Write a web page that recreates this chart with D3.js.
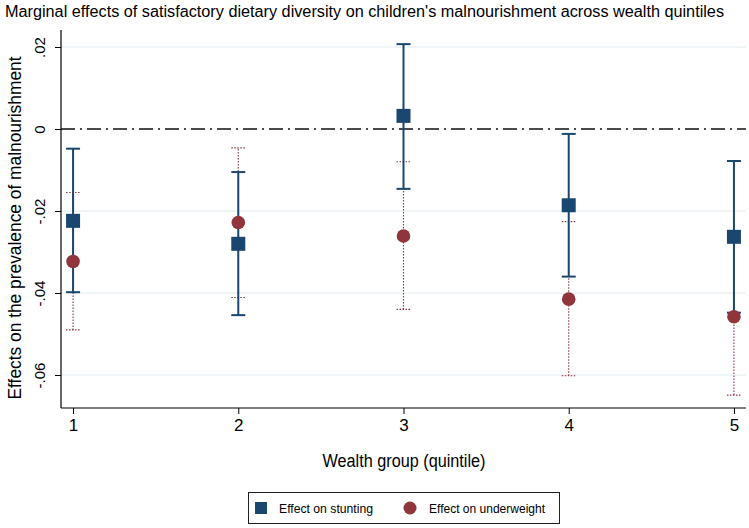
<!DOCTYPE html>
<html><head><meta charset="utf-8">
<script src="https://cdn.jsdelivr.net/npm/d3@7"></script>
<style>body{margin:0;background:#fff;} text{font-family:"Liberation Sans",Arial,sans-serif;fill:#000;}</style>
</head><body>
<svg id="chart" width="749" height="528"></svg>
<script>
const groups = [1, 2, 3, 4, 5];
const stuntEst = [-0.0224, -0.0280, 0.0032, -0.0186, -0.0263];
const stuntLo  = [-0.0398, -0.0454, -0.0146, -0.0360, -0.0448];
const stuntHi  = [-0.0048, -0.0105, 0.0207, -0.0012, -0.0078];
const underEst = [-0.0323, -0.0228, -0.0261, -0.0415, -0.0458];
const underLo  = [-0.0490, -0.0411, -0.0440, -0.0602, -0.0649];
const underHi  = [-0.0155, -0.0046, -0.0080, -0.0226, -0.0267];
const yTicks = [0.02, 0, -0.02, -0.04, -0.06];
const yTickLabels = [".02", "0", "-.02", "-.04", "-.06"];
const titleText = "Marginal effects of satisfactory dietary diversity on children's malnourishment across wealth quintiles";
const xTitle = "Wealth group (quintile)";
const yTitle = "Effects on the prevalence of malnourishment";
const legendLabels = ["Effect on stunting", "Effect on underweight"];

const blue = "#1a476f", red = "#90353b";
const svg = d3.select("#chart");
const L = 61, R = 746, T = 30, B = 408;
const x = d3.scaleLinear().domain([0.927, 5.073]).range([L, R]);
const y = d3.scaleLinear().domain([0, 0.02]).range([129, 47]);
const ff = "Liberation Sans, Arial, sans-serif";

// gridlines
svg.append("g").selectAll("line").data(yTicks.filter(v => v !== 0)).join("line")
  .attr("x1", L).attr("x2", R).attr("y1", d => y(d)).attr("y2", d => y(d))
  .attr("stroke", "#eaf2f3").attr("stroke-width", 1.5);

// zero reference line
svg.append("line").attr("x1", L).attr("x2", R).attr("y1", y(0)).attr("y2", y(0))
  .attr("stroke", "#111").attr("stroke-width", 1.6).attr("stroke-dasharray", "14,5,2,5");

// axes
const yAxis = d3.axisLeft(y).tickValues(yTicks).tickFormat((d, i) => yTickLabels[i]).tickSize(6).tickPadding(5);
const gy = svg.append("g").attr("transform", `translate(${L},0)`).call(yAxis);
gy.select(".domain").attr("d", `M0,${T}V${B}`).attr("stroke", "#000").attr("stroke-width", 1.2);
gy.selectAll(".tick line").attr("stroke", "#000");
gy.selectAll(".tick text").attr("transform", "rotate(-90)").attr("x", 0).attr("y", -16)
  .attr("dy", 0).attr("text-anchor", "middle").style("font-size", "15px").style("font-family", ff);

const xAxis = d3.axisBottom(x).tickValues(groups).tickFormat(d3.format("d")).tickSize(6).tickPadding(5);
const gx = svg.append("g").attr("transform", `translate(0,${B})`).call(xAxis);
gx.select(".domain").attr("d", `M${L},0H${R}`).attr("stroke", "#000").attr("stroke-width", 1.2);
gx.selectAll(".tick line").attr("stroke", "#000");
gx.selectAll(".tick text").style("font-size", "17px").style("font-family", ff);

// CI lines - underweight (dotted)
const cap = 7;
const uw = svg.append("g");
groups.forEach((g, i) => {
  const cx = x(g);
  uw.append("line").attr("x1", cx).attr("x2", cx).attr("y1", y(underLo[i])).attr("y2", y(underHi[i]))
    .attr("stroke", red).attr("stroke-width", 1.1).attr("stroke-dasharray", "1.5,1.5");
  [underLo[i], underHi[i]].forEach(v => uw.append("line").attr("x1", cx - cap).attr("x2", cx + cap)
    .attr("y1", y(v)).attr("y2", y(v)).attr("stroke", red).attr("stroke-width", 1.1).attr("stroke-dasharray", "1.5,1.5"));
});
// CI lines - stunting (solid)
const st = svg.append("g");
groups.forEach((g, i) => {
  const cx = x(g);
  st.append("line").attr("x1", cx).attr("x2", cx).attr("y1", y(stuntLo[i])).attr("y2", y(stuntHi[i]))
    .attr("stroke", blue).attr("stroke-width", 2);
  [stuntLo[i], stuntHi[i]].forEach(v => st.append("line").attr("x1", cx - cap).attr("x2", cx + cap)
    .attr("y1", y(v)).attr("y2", y(v)).attr("stroke", blue).attr("stroke-width", 2));
});
// markers
const sq = 14;
svg.append("g").selectAll("rect").data(groups).join("rect")
  .attr("x", (d) => x(d) - sq / 2).attr("y", (d, i) => y(stuntEst[i]) - sq / 2)
  .attr("width", sq).attr("height", sq).attr("fill", blue);
svg.append("g").selectAll("circle").data(groups).join("circle")
  .attr("cx", d => x(d)).attr("cy", (d, i) => y(underEst[i])).attr("r", 6.8).attr("fill", red);

// titles
svg.append("text").attr("x", 5).attr("y", 17).style("font-size", "16px")
  .attr("textLength", 719).attr("lengthAdjust", "spacingAndGlyphs").text(titleText);
svg.append("text").attr("x", 404).attr("y", 467).attr("text-anchor", "middle").style("font-size", "18px")
  .attr("textLength", 163).attr("lengthAdjust", "spacingAndGlyphs").text(xTitle);
svg.append("text").attr("transform", `translate(21,228) rotate(-90)`).attr("text-anchor", "middle")
  .style("font-size", "18px").attr("textLength", 343).attr("lengthAdjust", "spacingAndGlyphs").text(yTitle);

// legend
const lg = svg.append("g");
lg.append("rect").attr("x", 248.5).attr("y", 492.5).attr("width", 311).attr("height", 31)
  .attr("fill", "#fff").attr("stroke", "#222").attr("stroke-width", 1);
lg.append("rect").attr("x", 255).attr("y", 502).attr("width", 12).attr("height", 12).attr("fill", blue);
lg.append("text").attr("x", 279).attr("y", 513).style("font-size", "13px")
  .attr("textLength", 94).attr("lengthAdjust", "spacingAndGlyphs").text(legendLabels[0]);
lg.append("circle").attr("cx", 410).attr("cy", 508).attr("r", 6.5).attr("fill", red);
lg.append("text").attr("x", 429).attr("y", 513).style("font-size", "13px")
  .attr("textLength", 116).attr("lengthAdjust", "spacingAndGlyphs").text(legendLabels[1]);
</script>
</body></html>
